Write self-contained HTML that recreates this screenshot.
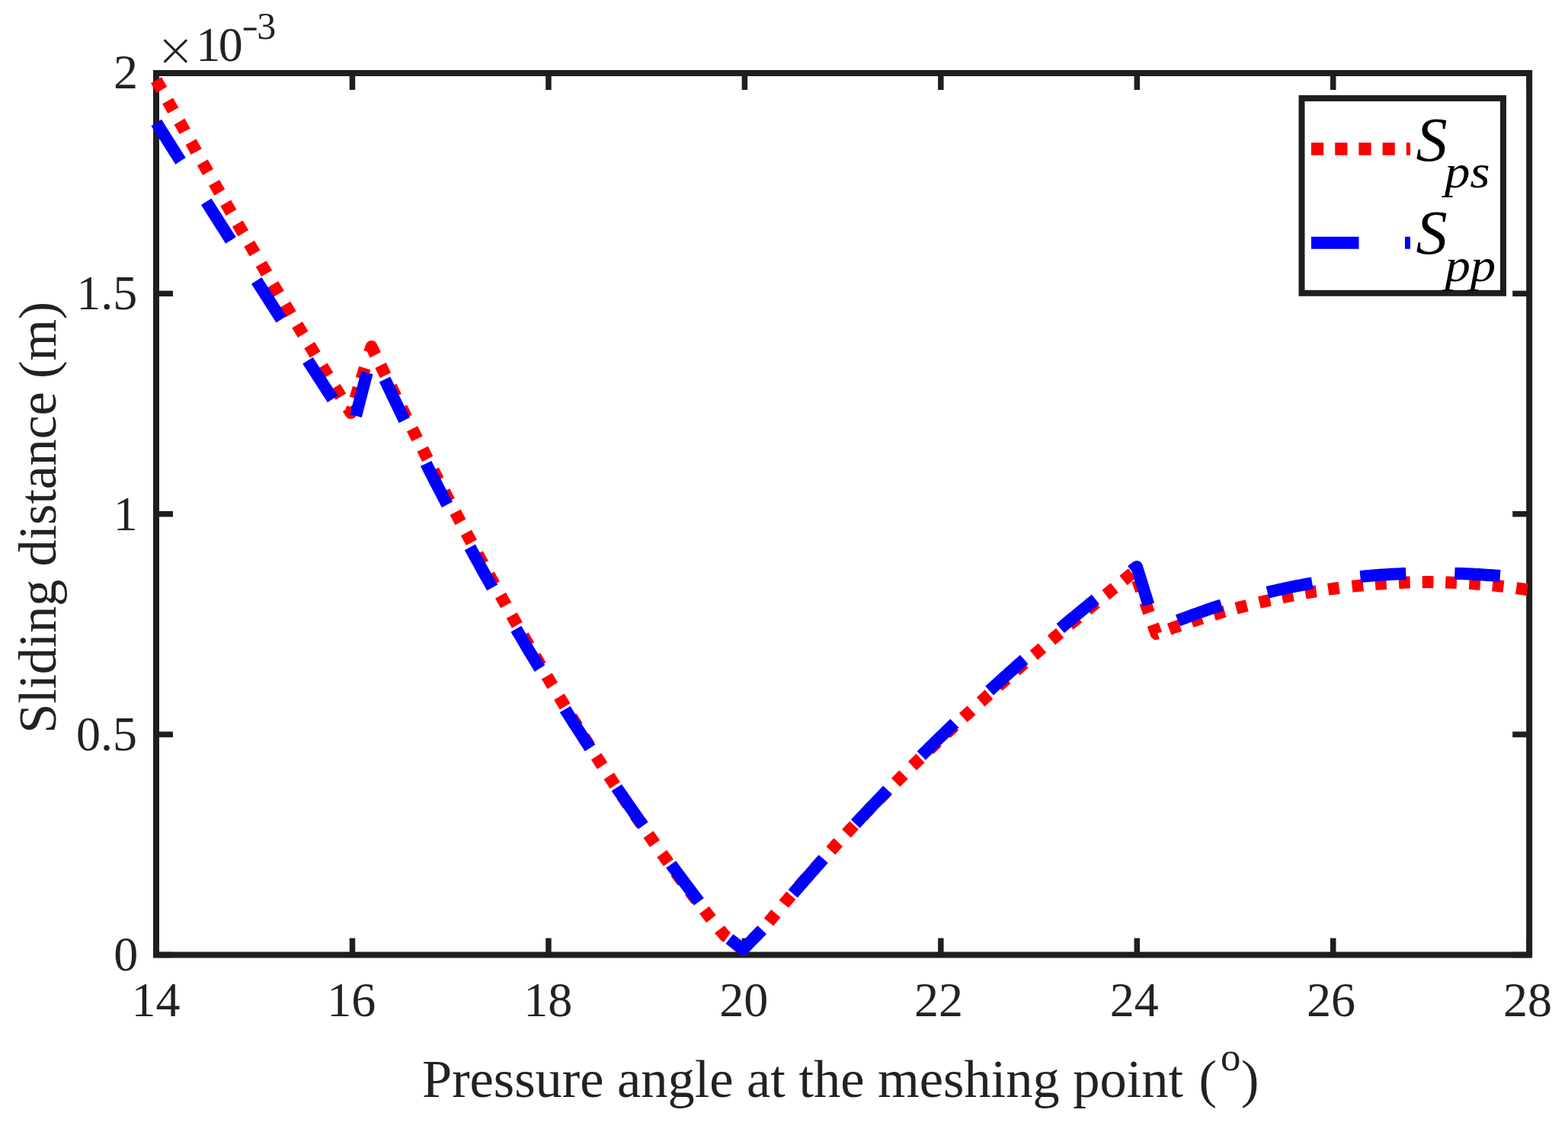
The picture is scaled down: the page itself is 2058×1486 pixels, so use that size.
<!DOCTYPE html><html><head><meta charset="utf-8"><title>Sliding distance</title><style>html,body{margin:0;padding:0;background:#fff;overflow:hidden}svg{display:block}</style></head><body><svg width="2058" height="1486" viewBox="0 0 2058 1486">
<rect x="0" y="0" width="2058" height="1486" fill="#fff"/>
<g stroke="#1e1e1e" stroke-width="7.5" fill="none"><rect x="205.0" y="96.0" width="1802.20" height="1157.50" fill="none" stroke="#1e1e1e" stroke-width="8"/><line x1="205.00" y1="1253.5" x2="205.00" y2="1231.5" /><line x1="205.00" y1="96.0" x2="205.00" y2="118.0" /><line x1="462.46" y1="1253.5" x2="462.46" y2="1231.5" /><line x1="462.46" y1="96.0" x2="462.46" y2="118.0" /><line x1="719.91" y1="1253.5" x2="719.91" y2="1231.5" /><line x1="719.91" y1="96.0" x2="719.91" y2="118.0" /><line x1="977.37" y1="1253.5" x2="977.37" y2="1231.5" /><line x1="977.37" y1="96.0" x2="977.37" y2="118.0" /><line x1="1234.83" y1="1253.5" x2="1234.83" y2="1231.5" /><line x1="1234.83" y1="96.0" x2="1234.83" y2="118.0" /><line x1="1492.29" y1="1253.5" x2="1492.29" y2="1231.5" /><line x1="1492.29" y1="96.0" x2="1492.29" y2="118.0" /><line x1="1749.74" y1="1253.5" x2="1749.74" y2="1231.5" /><line x1="1749.74" y1="96.0" x2="1749.74" y2="118.0" /><line x1="2007.20" y1="1253.5" x2="2007.20" y2="1231.5" /><line x1="2007.20" y1="96.0" x2="2007.20" y2="118.0" /><line x1="205.0" y1="1253.50" x2="227.0" y2="1253.50" /><line x1="2007.2" y1="1253.50" x2="1985.2" y2="1253.50" /><line x1="205.0" y1="964.12" x2="227.0" y2="964.12" /><line x1="2007.2" y1="964.12" x2="1985.2" y2="964.12" /><line x1="205.0" y1="674.75" x2="227.0" y2="674.75" /><line x1="2007.2" y1="674.75" x2="1985.2" y2="674.75" /><line x1="205.0" y1="385.38" x2="227.0" y2="385.38" /><line x1="2007.2" y1="385.38" x2="1985.2" y2="385.38" /><line x1="205.0" y1="96.00" x2="227.0" y2="96.00" /><line x1="2007.2" y1="96.00" x2="1985.2" y2="96.00" /></g>
<g fill="none" stroke="#ff0000" stroke-width="16" stroke-linejoin="round">
<path d="M205.1 105.1 L208.0 110.5 L211.1 116.0 L212.2 117.9"/>
<path d="M220.2 132.4 L223.2 137.8 L226.3 143.2 L227.4 145.2"/>
<path d="M235.4 159.6 L238.5 164.9 L241.5 170.3 L242.6 172.4"/>
<path d="M250.5 186.3 L253.7 191.9 L256.7 197.3 L257.7 199.1"/>
<path d="M265.7 213.2 L268.9 218.7 L271.9 224.1 L273.0 226.0"/>
<path d="M281.0 239.9 L284.1 245.3 L287.1 250.7 L288.3 252.7"/>
<path d="M296.2 266.4 L299.3 271.8 L302.3 277.1 L303.5 279.1"/>
<path d="M311.8 293.5 L314.5 298.1 L317.5 303.4 L319.2 306.2"/>
<path d="M327.1 319.8 L329.7 324.2 L332.8 329.5 L334.5 332.5"/>
<path d="M342.7 346.3 L344.9 350.2 L348.0 355.4 L350.1 359.0"/>
<path d="M358.4 373.1 L360.1 376.0 L363.2 381.1 L365.9 385.7"/>
<path d="M374.2 399.7 L375.3 401.6 L378.4 406.7 L381.7 412.4"/>
<path d="M390.1 426.4 L393.6 432.2 L396.6 437.2 L397.7 439.0"/>
<path d="M406.1 453.0 L408.8 457.4 L411.8 462.4 L413.7 465.5"/>
<path d="M422.9 480.6 L424.0 482.5 L427.0 487.5 L430.5 493.2"/>
<path d="M439.7 508.2 L442.2 512.4 L445.3 517.3 L447.4 520.7"/>
<path d="M456.6 535.7 L457.5 537.1 L460.5 542.0 L462.7 535.0"/>
<path d="M466.4 523.0 L470.7 509.0"/>
<path d="M474.4 497.2 L478.8 483.2"/>
<path d="M485.1 462.6 L487.5 455.0 L490.5 461.2 L492.8 465.8"/>
<path d="M499.5 479.5 L502.7 486.0 L506.0 492.7"/>
<path d="M513.2 507.3 L514.8 510.5 L517.8 516.7 L519.7 520.5"/>
<path d="M527.0 535.1 L530.0 541.0 L533.6 548.3"/>
<path d="M541.0 562.8 L542.1 565.0 L545.1 571.0 L547.6 576.0"/>
<path d="M554.5 589.4 L557.3 594.8 L560.3 600.8 L561.2 602.5"/>
<path d="M568.7 617.1 L572.4 624.3 L575.5 630.2"/>
<path d="M583.1 644.8 L584.5 647.6 L587.6 653.4 L589.9 657.8"/>
<path d="M597.6 672.4 L599.7 676.4 L602.7 682.1 L604.5 685.4"/>
<path d="M611.9 699.3 L614.9 704.8 L617.9 710.4 L618.9 712.3"/>
<path d="M626.8 726.9 L630.0 732.9 L633.1 738.4 L633.8 739.8"/>
<path d="M641.8 754.3 L645.2 760.5 L648.9 767.2"/>
<path d="M657.0 781.7 L660.4 787.8 L663.4 793.2 L664.1 794.5"/>
<path d="M671.6 807.8 L672.5 809.4 L675.5 814.7 L678.9 820.6"/>
<path d="M686.8 834.5 L687.7 835.9 L690.7 841.2 L694.2 847.2"/>
<path d="M702.2 861.0 L705.9 867.3 L709.6 873.7"/>
<path d="M717.7 887.5 L721.0 893.0 L724.0 898.1 L725.3 900.1"/>
<path d="M734.0 914.7 L736.2 918.3 L739.2 923.3 L741.6 927.3"/>
<path d="M750.0 940.9 L751.3 943.1 L754.4 948.0 L757.7 953.4"/>
<path d="M766.2 967.0 L769.5 972.3 L772.6 977.2 L774.0 979.4"/>
<path d="M782.6 992.9 L784.7 996.2 L787.7 1001.0 L790.5 1005.2"/>
<path d="M799.2 1018.6 L802.9 1024.3 L805.9 1028.9 L807.2 1030.9"/>
<path d="M816.2 1044.4 L818.1 1047.2 L821.1 1051.8 L824.4 1056.6"/>
<path d="M833.4 1070.0 L836.3 1074.1 L839.3 1078.5 L841.8 1082.1"/>
<path d="M851.0 1095.4 L854.5 1100.3 L857.5 1104.6 L859.4 1107.4"/>
<path d="M868.8 1120.6 L872.7 1125.9 L875.7 1130.1 L877.4 1132.5"/>
<path d="M887.0 1145.5 L890.8 1150.7 L893.9 1154.8 L895.8 1157.3"/>
<path d="M905.5 1170.2 L909.0 1174.9 L912.1 1178.9 L914.4 1181.9"/>
<path d="M924.4 1194.7 L927.2 1198.3 L930.3 1202.2 L933.5 1206.2"/>
<path d="M944.5 1219.9 L945.4 1221.1 L948.5 1224.8 L951.5 1228.5 L954.4 1230.6"/>
<path d="M966.7 1239.9 L975.4 1246.5 L978.0 1243.8"/>
<path d="M988.7 1232.6 L998.8 1222.0"/>
<path d="M1009.0 1210.4 L1012.2 1206.4 L1015.2 1202.8 L1018.3 1199.1"/>
<path d="M1028.8 1186.7 L1030.4 1184.7 L1033.5 1181.1 L1036.5 1177.6 L1038.3 1175.5"/>
<path d="M1049.0 1163.1 L1051.7 1160.0 L1054.7 1156.5 L1058.7 1152.0"/>
<path d="M1069.5 1139.7 L1072.9 1135.8 L1076.0 1132.4 L1079.3 1128.8"/>
<path d="M1090.3 1116.6 L1094.2 1112.3 L1097.2 1109.0 L1100.2 1105.8"/>
<path d="M1110.9 1094.2 L1112.4 1092.6 L1115.5 1089.3 L1118.5 1086.1 L1121.0 1083.4"/>
<path d="M1132.2 1071.6 L1133.7 1070.1 L1136.7 1066.9 L1139.8 1063.7 L1142.4 1061.0"/>
<path d="M1153.8 1049.3 L1154.9 1048.1 L1158.0 1045.0 L1161.0 1041.9 L1164.1 1038.8"/>
<path d="M1175.6 1027.2 L1179.2 1023.6 L1182.3 1020.5 L1186.0 1016.8"/>
<path d="M1197.5 1005.5 L1200.5 1002.6 L1203.5 999.6 L1206.6 996.7 L1208.1 995.3"/>
<path d="M1219.6 984.2 L1221.8 982.1 L1224.8 979.2 L1227.8 976.3 L1230.2 974.0"/>
<path d="M1241.8 963.1 L1243.0 961.9 L1246.0 959.1 L1249.1 956.3 L1252.6 953.0"/>
<path d="M1264.3 942.2 L1267.3 939.4 L1270.3 936.6 L1273.4 933.9 L1275.1 932.3"/>
<path d="M1287.1 921.4 L1288.6 920.1 L1291.6 917.4 L1294.6 914.6 L1298.0 911.6"/>
<path d="M1310.2 900.8 L1312.9 898.4 L1315.9 895.7 L1318.9 893.0 L1321.2 891.0"/>
<path d="M1333.4 880.3 L1337.2 877.1 L1340.2 874.4 L1343.2 871.8 L1344.5 870.7"/>
<path d="M1356.8 860.0 L1358.4 858.7 L1361.5 856.1 L1364.5 853.5 L1368.0 850.5"/>
<path d="M1379.9 840.4 L1382.7 838.0 L1385.7 835.4 L1388.8 832.8 L1391.1 830.9"/>
<path d="M1403.6 820.4 L1407.0 817.5 L1410.0 815.0 L1413.1 812.5 L1414.9 810.9"/>
<path d="M1427.4 800.5 L1431.3 797.3 L1434.3 794.8 L1437.4 792.3 L1438.8 791.2"/>
<path d="M1451.3 780.8 L1452.6 779.8 L1455.6 777.3 L1458.6 774.8 L1462.7 771.5"/>
<path d="M1474.4 761.9 L1476.9 759.9 L1479.9 757.4 L1482.9 754.9 L1485.8 752.6"/>
<path d="M1493.0 761.4 L1497.8 775.3"/>
<path d="M1503.1 790.7 L1508.0 804.5"/>
<path d="M1513.3 819.9 L1517.5 832.0 L1519.3 831.4"/>
<path d="M1534.6 825.9 L1538.7 824.4 L1541.7 823.4 L1544.7 822.4 L1548.5 821.1"/>
<path d="M1563.8 816.0 L1565.9 815.3 L1568.9 814.4 L1571.9 813.4 L1574.9 812.4 L1577.8 811.5"/>
<path d="M1593.3 806.8 L1596.1 806.0 L1599.1 805.1 L1602.1 804.3 L1605.2 803.4 L1607.4 802.8"/>
<path d="M1622.5 798.6 L1626.3 797.6 L1629.3 796.8 L1632.4 796.0 L1636.7 794.9"/>
<path d="M1652.9 791.0 L1656.6 790.1 L1659.6 789.4 L1662.6 788.7 L1665.6 788.0 L1667.2 787.7"/>
<path d="M1682.9 784.3 L1686.8 783.5 L1689.8 782.9 L1692.8 782.3 L1695.8 781.7 L1697.3 781.4"/>
<path d="M1713.2 778.5 L1717.0 777.8 L1720.0 777.3 L1723.1 776.8 L1726.1 776.3 L1727.7 776.1"/>
<path d="M1743.2 773.7 L1747.2 773.1 L1750.3 772.7 L1753.3 772.3 L1757.7 771.7"/>
<path d="M1774.6 769.7 L1777.5 769.4 L1780.5 769.1 L1783.5 768.8 L1786.5 768.5 L1789.2 768.2"/>
<path d="M1805.0 766.8 L1807.7 766.6 L1810.7 766.4 L1813.7 766.2 L1816.8 766.0 L1819.7 765.8"/>
<path d="M1836.0 765.0 L1837.9 764.9 L1840.9 764.8 L1844.0 764.7 L1847.0 764.6 L1850.7 764.5"/>
<path d="M1866.7 764.2 L1871.2 764.1 L1874.2 764.1 L1877.2 764.1 L1881.4 764.2"/>
<path d="M1897.2 764.4 L1901.4 764.6 L1904.4 764.7 L1907.4 764.8 L1911.9 765.0"/>
<path d="M1928.3 765.8 L1931.6 766.0 L1934.7 766.3 L1937.7 766.5 L1940.7 766.7 L1943.0 766.9"/>
<path d="M1958.9 768.3 L1961.9 768.6 L1964.9 768.9 L1967.9 769.3 L1970.9 769.6 L1973.5 769.9"/>
<path d="M1990.1 772.0 L1992.1 772.3 L1995.1 772.7 L1998.1 773.1 L2001.2 773.6 L2004.7 774.1"/>
</g>
<g fill="none" stroke="#0000ff" stroke-width="16" stroke-linejoin="round">
<path d="M205.2 161.0 L208.1 165.6 L211.1 170.4 L214.2 175.3 L217.3 180.2 L220.3 185.0 L223.4 189.9 L226.4 194.7 L229.5 199.6 L232.6 204.5 L235.6 209.3 L237.0 211.4"/>
<path d="M270.7 264.7 L272.4 267.4 L275.5 272.2 L278.5 277.1 L281.6 281.9 L284.7 286.7 L287.7 291.5 L290.8 296.4 L293.9 301.2 L296.9 306.0 L300.0 310.8 L303.0 315.6"/>
<path d="M336.7 368.4 L339.8 373.3 L342.9 378.1 L346.0 382.9 L349.0 387.6 L352.1 392.4 L355.1 397.2 L358.2 402.0 L361.3 406.8 L364.3 411.6 L367.4 416.3 L369.3 419.3"/>
<path d="M404.0 473.2 L407.2 478.3 L410.3 483.1 L413.4 487.8 L416.4 492.6 L419.5 497.3 L422.6 502.1 L425.6 506.8 L428.7 511.5 L431.8 516.3 L434.8 521.0 L436.6 523.8"/>
<path d="M467.0 546.1 L481.7 489.3"/>
<path d="M505.0 498.0 L506.8 501.7 L509.8 508.0 L512.8 514.4 L515.8 520.7 L518.9 527.0 L521.9 533.3 L524.9 539.5 L527.9 545.8 L530.8 551.6"/>
<path d="M559.1 608.5 L561.2 612.7 L564.2 618.6 L567.3 624.6 L570.3 630.5 L573.3 636.3 L576.3 642.2 L579.4 648.0 L582.4 653.8 L585.4 659.6 L586.9 662.5"/>
<path d="M616.8 718.4 L618.7 721.9 L621.7 727.4 L624.7 732.9 L627.8 738.4 L630.8 743.9 L633.8 749.3 L636.8 754.8 L639.9 760.2 L642.9 765.5 L646.2 771.4"/>
<path d="M677.4 825.6 L679.2 828.7 L682.2 833.8 L685.3 838.9 L688.3 844.0 L691.3 849.1 L694.3 854.2 L697.4 859.2 L700.4 864.2 L703.4 869.2 L706.4 874.2 L708.4 877.4"/>
<path d="M741.7 931.0 L742.7 932.7 L745.8 937.5 L748.8 942.2 L751.8 946.9 L754.8 951.7 L757.9 956.4 L760.9 961.0 L763.9 965.7 L766.9 970.3 L770.0 975.0 L773.0 979.6 L774.5 981.9"/>
<path d="M809.4 1033.9 L812.3 1038.3 L815.4 1042.7 L818.4 1047.1 L821.4 1051.4 L824.4 1055.8 L827.5 1060.2 L830.5 1064.5 L833.5 1068.8 L836.5 1073.1 L839.6 1077.4 L842.6 1081.7 L844.1 1083.8"/>
<path d="M880.7 1134.6 L881.9 1136.3 L884.9 1140.4 L888.0 1144.5 L891.0 1148.6 L894.0 1152.6 L897.0 1156.7 L900.1 1160.8 L903.1 1164.8 L906.1 1168.8 L909.1 1172.8 L912.2 1176.8 L915.2 1180.8 L917.3 1183.7"/>
<path d="M957.4 1232.5 L975.4 1246.3 L1000.2 1220.5"/>
<path d="M1040.7 1173.2 L1042.6 1171.0 L1045.6 1167.5 L1048.6 1164.0 L1051.7 1160.5 L1054.7 1157.0 L1057.8 1153.5 L1060.8 1150.1 L1063.8 1146.6 L1066.9 1143.2 L1069.9 1139.7 L1072.9 1136.3 L1076.0 1132.9 L1079.0 1129.5 L1080.8 1127.5"/>
<path d="M1122.8 1081.4 L1124.6 1079.5 L1127.6 1076.3 L1130.6 1073.0 L1133.7 1069.8 L1136.7 1066.6 L1139.7 1063.4 L1142.8 1060.1 L1145.8 1056.9 L1148.9 1053.7 L1151.9 1050.6 L1154.9 1047.4 L1158.0 1044.2 L1161.0 1041.1 L1165.0 1036.9"/>
<path d="M1209.3 992.0 L1212.6 988.7 L1215.7 985.7 L1218.7 982.7 L1221.7 979.7 L1224.8 976.7 L1227.8 973.7 L1230.8 970.8 L1233.9 967.8 L1236.9 964.9 L1240.0 961.9 L1243.0 959.0 L1246.0 956.1 L1249.1 953.2 L1252.9 949.5"/>
<path d="M1298.6 906.7 L1300.7 904.8 L1303.7 902.0 L1306.8 899.3 L1309.8 896.5 L1312.8 893.8 L1315.9 891.0 L1318.9 888.3 L1321.9 885.6 L1325.0 882.8 L1328.0 880.1 L1331.1 877.4 L1334.1 874.7 L1337.1 872.0 L1340.2 869.3 L1344.2 865.8"/>
<path d="M1391.7 824.9 L1394.8 822.3 L1397.9 819.7 L1400.9 817.2 L1403.9 814.6 L1407.0 812.1 L1410.0 809.6 L1413.0 807.1 L1416.1 804.6 L1419.1 802.1 L1422.2 799.6 L1425.2 797.1 L1428.2 794.6 L1431.3 792.1 L1434.3 789.7 L1437.9 786.8"/>
<path d="M1485.1 749.4 L1489.0 746.3 L1492.0 744.0 L1507.4 793.8"/>
<path d="M1545.9 814.7 L1547.6 814.0 L1550.7 812.8 L1553.7 811.7 L1556.7 810.5 L1559.7 809.4 L1562.8 808.3 L1565.8 807.1 L1568.8 806.0 L1571.8 805.0 L1574.8 803.9 L1577.9 802.8 L1580.9 801.8 L1583.9 800.7 L1586.9 799.7 L1590.0 798.7 L1593.0 797.7 L1596.0 796.7 L1599.0 795.7 L1603.4 794.3"/>
<path d="M1663.5 777.6 L1665.5 777.1 L1668.6 776.4 L1671.6 775.7 L1674.6 775.0 L1677.6 774.3 L1680.7 773.6 L1683.7 773.0 L1686.7 772.3 L1689.7 771.7 L1692.8 771.0 L1695.8 770.4 L1698.8 769.8 L1701.8 769.2 L1704.9 768.6 L1707.9 768.1 L1710.9 767.5 L1713.9 767.0 L1716.9 766.4 L1720.0 765.9 L1722.3 765.5"/>
<path d="M1785.4 757.0 L1789.5 756.6 L1792.5 756.3 L1795.6 756.0 L1798.6 755.8 L1801.6 755.5 L1804.6 755.3 L1807.7 755.0 L1810.7 754.8 L1813.7 754.6 L1816.7 754.4 L1819.7 754.2 L1822.8 754.0 L1825.8 753.8 L1828.8 753.7 L1831.8 753.5 L1834.9 753.4 L1837.9 753.2 L1840.9 753.1 L1845.3 752.9"/>
<path d="M1909.3 752.7 L1913.5 752.9 L1916.5 753.0 L1919.5 753.1 L1922.5 753.2 L1925.6 753.3 L1928.6 753.5 L1931.6 753.6 L1934.6 753.8 L1937.7 753.9 L1940.7 754.1 L1943.7 754.3 L1946.7 754.5 L1949.8 754.7 L1952.8 754.9 L1955.8 755.1 L1958.8 755.3 L1961.8 755.5 L1964.9 755.8 L1968.9 756.1"/>
</g>
<g font-family="Liberation Serif, serif" font-size="64" fill="#222222"><text x="204.50" y="1334.3" text-anchor="middle">14</text><text x="461.26" y="1334.3" text-anchor="middle">16</text><text x="719.21" y="1334.3" text-anchor="middle">18</text><text x="976.37" y="1334.3" text-anchor="middle">20</text><text x="1231.93" y="1334.3" text-anchor="middle">22</text><text x="1488.79" y="1334.3" text-anchor="middle">24</text><text x="1747.04" y="1334.3" text-anchor="middle">26</text><text x="2005.00" y="1334.3" text-anchor="middle">28</text><text x="181.3" y="1274.00" text-anchor="end">0</text><text x="180" y="984.62" text-anchor="end">0.5</text><text x="180.7" y="696.25" text-anchor="end">1</text><text x="180.3" y="406.18" text-anchor="end">1.5</text><text x="181" y="115.50" text-anchor="end">2</text></g>
<g font-family="Liberation Serif, serif" fill="#222222"><text x="204.8" y="86.1" font-size="61" font-family="DejaVu Sans, sans-serif" font-weight="200">×</text><text x="257.2" y="79.6" font-size="64" letter-spacing="-2.5">10</text><text x="318.2" y="54.5" font-size="48" transform="translate(318.2 0) scale(0.72 1) translate(-318.2 0)" stroke="#222222" stroke-width="1">−</text><text x="337.3" y="50.5" font-size="50">3</text></g>
<g font-family="Liberation Serif, serif" fill="#222222"><text x="554" y="1440" font-size="70.4">Pressure angle at the meshing point</text><text x="1573.5" y="1440" font-size="70.4">(</text><text x="1602" y="1405" font-size="52.8">o</text><text x="1629" y="1440" font-size="70.4">)</text></g>
<text transform="translate(73,962.8) rotate(-90)" font-family="Liberation Serif, serif" font-size="70.4" fill="#222222" letter-spacing="-0.2">Sliding distance (m)</text>
<rect x="1708.5" y="129" width="264.5" height="255.8" fill="#fff" stroke="#1e1e1e" stroke-width="8"/><line x1="1721" y1="195.6" x2="1851" y2="195.6" stroke="#ff0000" stroke-width="16.5" stroke-dasharray="16.2 15"/><line x1="1721" y1="318.8" x2="1851" y2="318.8" stroke="#0000ff" stroke-width="16" stroke-dasharray="62.5 60.5"/><g font-family="Liberation Serif, serif" font-style="italic" fill="#000"><text x="1858.5" y="210.5" font-size="82.3">S</text><text transform="translate(1896.1 245.5) scale(1.085 1)" font-size="61.7">ps</text><text x="1858.5" y="333" font-size="82.3">S</text><text transform="translate(1896.4 369) scale(1.085 1)" font-size="61.7">pp</text></g>
</svg></body></html>
